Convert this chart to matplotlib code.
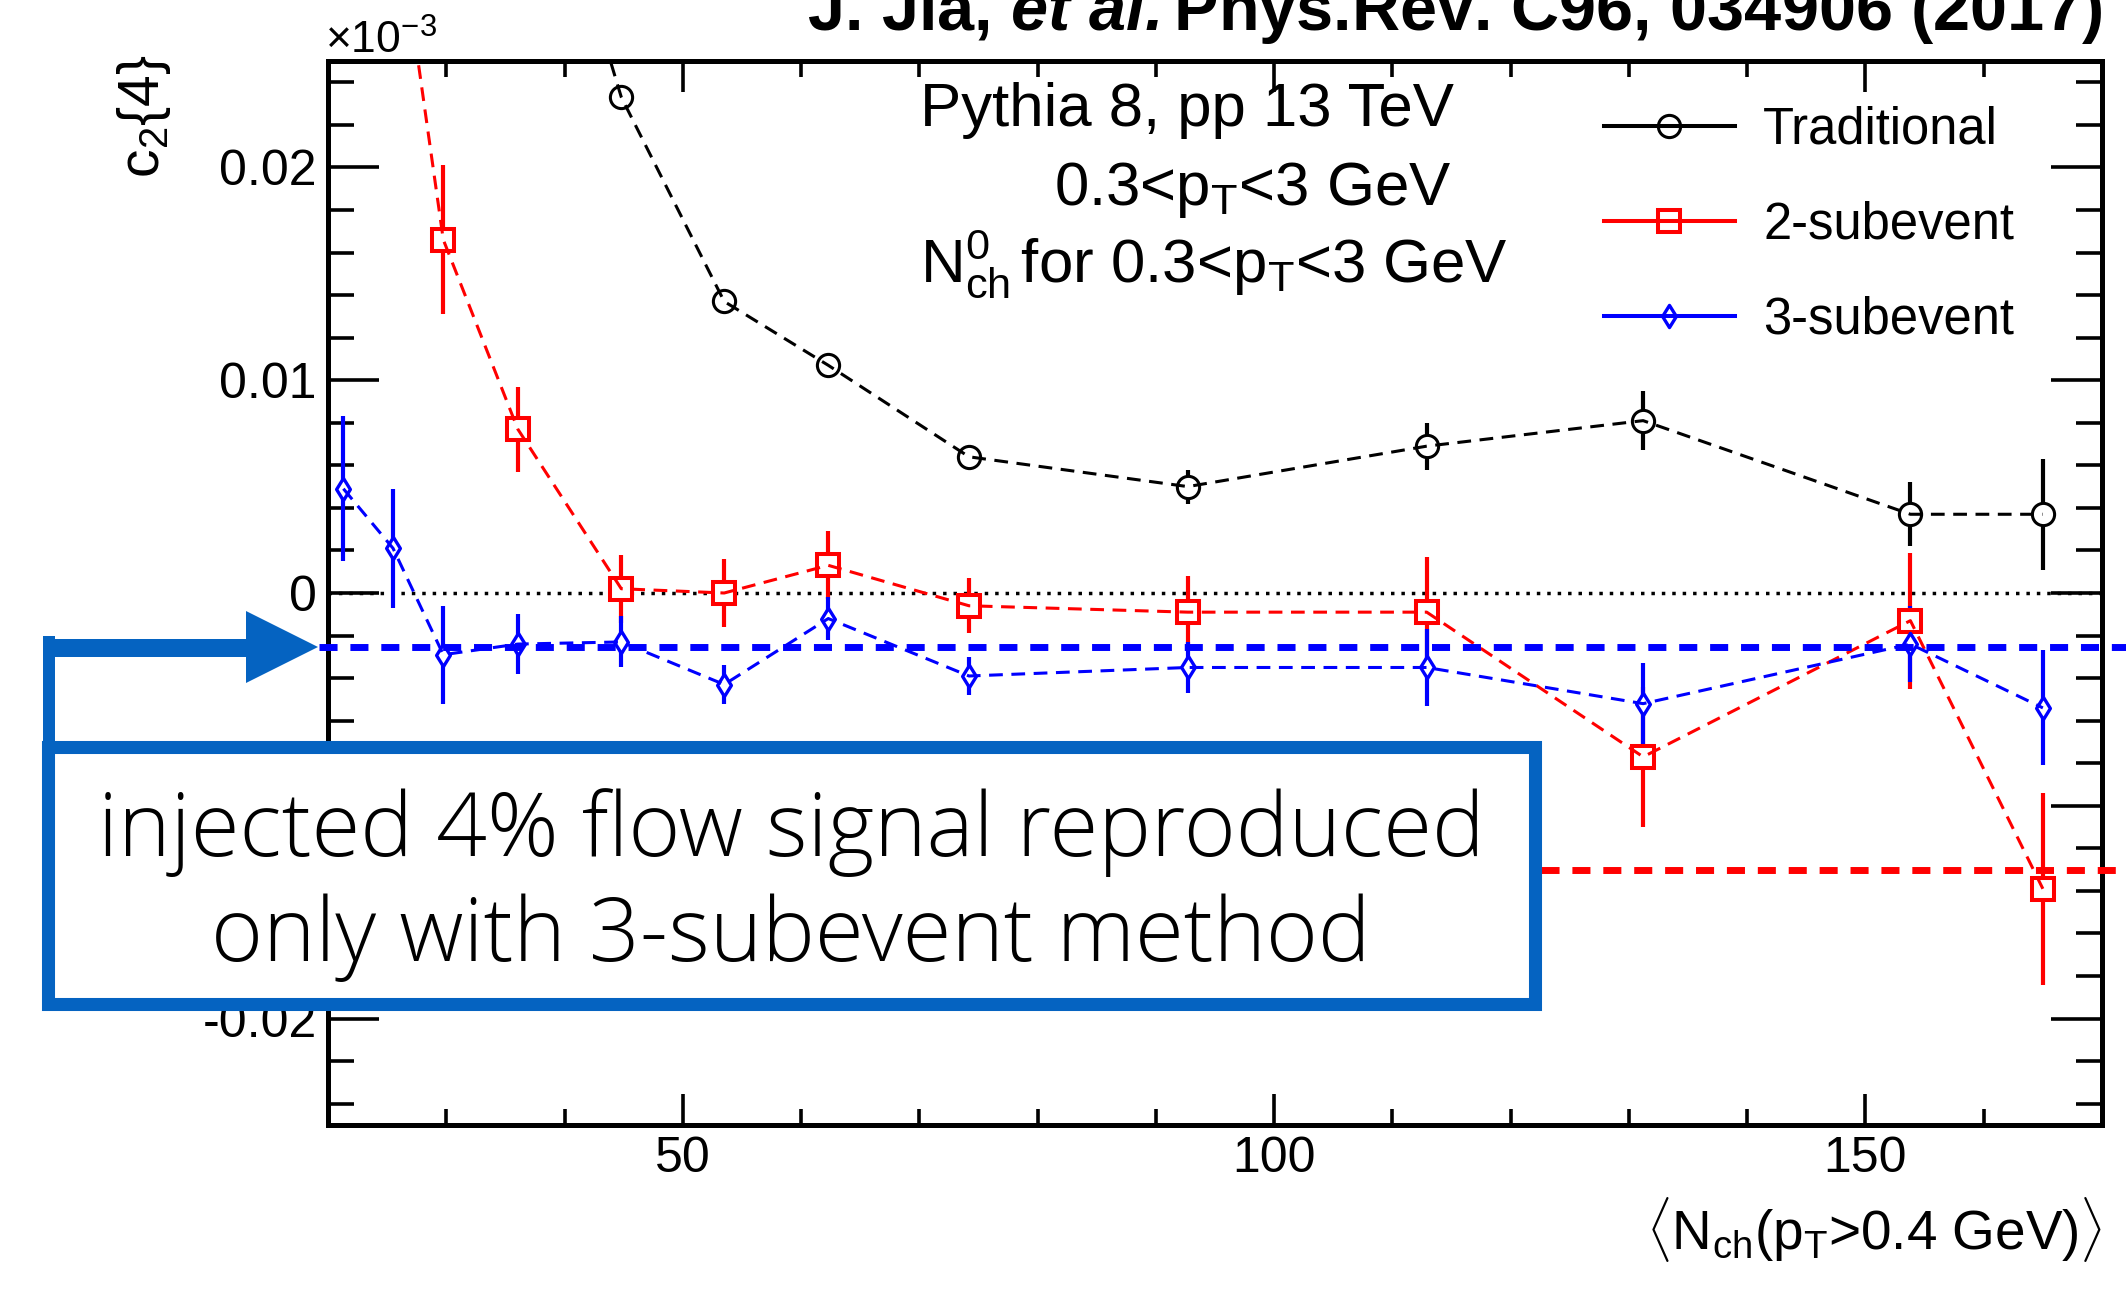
import numpy as np
import matplotlib
matplotlib.use("Agg")
import matplotlib.pyplot as plt
import matplotlib.transforms as mtransforms
from matplotlib.lines import Line2D
from matplotlib.patches import Rectangle, Polygon
from matplotlib.path import Path
from matplotlib.ticker import MultipleLocator

# ---------------------------------------------------------------- data
# <N_ch(pT>0.4 GeV)> bin centres
nch = [21.3, 25.5, 29.75, 36.05, 44.8, 53.5, 62.3, 74.2, 92.7, 112.9, 131.2, 153.8, 165.0]

nan = np.nan
# c2{4}, standard cumulant
c24_trad = [nan, nan, nan, 0.0394, 0.0233, 0.0137, 0.0107, 0.0064, 0.0050, 0.0069, 0.0081, 0.0037, 0.0037]
c24_trad_err = [nan, nan, nan, 0.0, 0.0004, 0.0004, 0.0004, 0.0005, 0.0008, 0.0011, 0.0014, 0.0015, 0.0026]
# c2{4}, two-subevent cumulant
c24_2sub = [nan, 0.0333, 0.0166, 0.0077, 0.0002, 0.0000, 0.0013, -0.0006, -0.0009, -0.0009, -0.0077, -0.0013, -0.0139]
c24_2sub_err = [nan, 0.0, 0.0035, 0.0020, 0.0016, 0.0016, 0.0016, 0.0013, 0.0017, 0.0026, 0.0033, 0.0032, 0.0045]
# c2{4}, three-subevent cumulant
c24_3sub = [0.0049, 0.0021, -0.0029, -0.0024, -0.0023, -0.0043, -0.0012, -0.0039, -0.0035, -0.0035, -0.0052, -0.0024, -0.0054]
c24_3sub_err = [0.0034, 0.0028, 0.0023, 0.0014, 0.0012, 0.0009, 0.0010, 0.0009, 0.0012, 0.0018, 0.0019, 0.0018, 0.0027]

series_labels = ["Traditional", "2-subevent", "3-subevent"]

# reference levels
ref_3sub = -0.00256
ref_2sub = -0.013

x_ticks = [50, 100, 150]
y_ticks = [-0.02, -0.01, 0.0, 0.01, 0.02]
y_ticklabels = ["-0.02", "-0.01", "0", "0.01", "0.02"]

# ---------------------------------------------------------------- style
W, H = 2126, 1297
plt.rcParams["font.family"] = ["Liberation Sans", "DejaVu Sans"]
plt.rcParams["mathtext.fontset"] = "custom"
plt.rcParams["mathtext.rm"] = "Liberation Sans"
plt.rcParams["mathtext.it"] = "Liberation Sans:italic"
plt.rcParams["mathtext.bf"] = "Liberation Sans:bold"
plt.rcParams["mathtext.bfit"] = "Liberation Sans:bold:italic"
plt.rcParams["axes.unicode_minus"] = False

def fx(px):
    return px / W

def fy(py):
    return 1.0 - py / H

fig = plt.figure(figsize=(W / 100, H / 100), dpi=100)
ax = fig.add_axes([fx(328), fy(1125), fx(2102) - fx(328), fy(61) - fy(1125)])
ax.set_xlim(20, 170)
ax.set_ylim(-0.025, 0.025)

# thin diamond marker
diamond = Path([(0, 1), (0.62, 0), (0, -1), (-0.62, 0), (0, 1)],
               [Path.MOVETO, Path.LINETO, Path.LINETO, Path.LINETO, Path.CLOSEPOLY])

styles = [
    dict(y=c24_trad, e=c24_trad_err, color="#000000", marker="o", ms=16, mew=2.2),
    dict(y=c24_2sub, e=c24_2sub_err, color="#ff0000", marker="s", ms=16.5, mew=2.9),
    dict(y=c24_3sub, e=c24_3sub_err, color="#0000ff", marker=diamond, ms=16, mew=2.4),
]

x = np.array(nch)
handles = []
for st in styles:
    y = np.array(st["y"], dtype=float)
    e = np.array(st["e"], dtype=float)
    ax.errorbar(x, y, yerr=e, fmt="none", ecolor=st["color"], elinewidth=3.0,
                capsize=0, zorder=2)
    # white marker interiors hide the error bar inside the symbol
    ax.plot(x, y, ls="none", marker=st["marker"], ms=st["ms"], mfc="white",
            mec="none", zorder=3)
    ax.plot(x, y, ls=(0, (4.5, 2.8)), lw=2.2, color=st["color"], zorder=4)
    ax.plot(x, y, ls="none", marker=st["marker"], ms=st["ms"], mfc="none",
            mec=st["color"], mew=st["mew"], zorder=5)
    handles.append(Line2D([], [], color=st["color"], lw=2.9, marker=st["marker"],
                          ms=st["ms"], mfc="none", mec=st["color"], mew=st["mew"]))

# zero line
ax.axhline(0.0, color="black", lw=2.5, ls=(0, (1, 2)), zorder=1)

# axes, ticks
for sp in ax.spines.values():
    sp.set_linewidth(3.6)
ax.set_xticks(x_ticks)
ax.set_xticklabels([str(v) for v in x_ticks])
ax.xaxis.set_minor_locator(MultipleLocator(10))
ax.set_yticks(y_ticks)
ax.set_yticklabels(y_ticklabels)
ax.yaxis.set_minor_locator(MultipleLocator(0.002))
ax.tick_params(which="both", direction="in", top=True, right=True, width=2.6,
               labelsize=36)
ax.tick_params(axis="y", which="major", length=37, pad=8)
ax.tick_params(axis="y", which="minor", length=19)
ax.tick_params(axis="x", which="major", length=22, pad=8)
ax.tick_params(axis="x", which="minor", length=11.5)

# legend
ax.legend(handles, series_labels, loc="upper left", bbox_to_anchor=(0.719, 0.958),
          frameon=False, fontsize=36.5, handlelength=2.6, handletextpad=0.55,
          labelspacing=0.91, borderpad=0, borderaxespad=0)

# text annotations
fig.text(fx(920), fy(126), "Pythia 8, pp 13 TeV", fontsize=44.5, ha="left", va="baseline")
fig.text(fx(1452), fy(205), r"0.3<p$_{\mathrm{T}}$<3 GeV", fontsize=44.5, ha="right", va="baseline")
fig.text(fx(920), fy(282), r"N$^{\mathrm{0}}_{\mathrm{ch}}\!$ for 0.3<p$_{\mathrm{T}}$<3 GeV",
         fontsize=44.5, ha="left", va="baseline")

fig.text(fx(2102), fy(30), r"J. Jia, $\mathbfit{et\ al.}$Phys.Rev. C96, 034906 (2017)",
         fontsize=48, fontweight="bold", ha="right", va="baseline")
fig.text(fx(325), fy(54), r"×10$^{\mathrm{-3}}$", fontsize=32, ha="left", va="baseline")
fig.text(fx(144), fy(54), r"c$_{\mathrm{2}}${4}", fontsize=41, rotation=90,
         ha="center", va="top")
fig.text(fx(2102), fy(1250), r"$\langle$N$_{\mathrm{ch}}$(p$_{\mathrm{T}}$>0.4 GeV)$\rangle$",
         fontsize=39.5, ha="right", va="baseline")

# reference lines drawn across the figure
blend = mtransforms.blended_transform_factory(fig.transFigure, ax.transData)
fig.add_artist(Line2D([fx(319), 1.0], [ref_3sub, ref_3sub], transform=blend,
                      color="#0000ff", lw=5.0, ls=(0, (2.6, 1.85)), zorder=20))
fig.add_artist(Line2D([fx(1541), 1.0], [ref_2sub, ref_2sub], transform=blend,
                      color="#ff0000", lw=5.0, ls=(0, (2.6, 1.85)), zorder=20))

# callout box with arrow
box_blue = "#0563C1"
tf = fig.transFigure
fig.add_artist(Rectangle((fx(43), fy(745)), fx(55) - fx(43), fy(636) - fy(745),
                         transform=tf, color=box_blue, lw=0, zorder=21))
fig.add_artist(Rectangle((fx(43), fy(657)), fx(248) - fx(43), fy(639) - fy(657),
                         transform=tf, color=box_blue, lw=0, zorder=21))
fig.add_artist(Polygon([(fx(246), fy(611)), (fx(246), fy(683)), (fx(318), fy(647))],
                       closed=True, transform=tf, color=box_blue, lw=0, zorder=21))
fig.add_artist(Rectangle((fx(47.5), fy(1003.5)), fx(1534.5) - fx(47.5), fy(746.5) - fy(1003.5),
                         transform=tf, facecolor="white", edgecolor=box_blue, lw=9.4,
                         joinstyle="miter", zorder=22))
box_font = dict(fontsize=64, family=["Open Sans", "DejaVu Sans"], fontweight="light",
                ha="center", va="baseline", zorder=23)
fig.text(fx(791), fy(856), "injected 4% flow signal reproduced", **box_font)
fig.text(fx(791), fy(961), "only with 3-subevent method", **box_font)

fig.savefig("out.png", dpi=100)
